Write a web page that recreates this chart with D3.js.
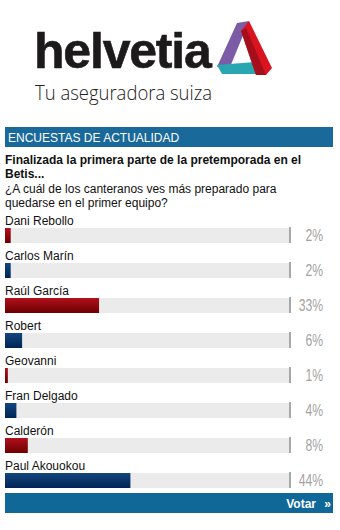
<!DOCTYPE html>
<html>
<head>
<meta charset="utf-8">
<script src="https://cdnjs.cloudflare.com/ajax/libs/d3/7.8.5/d3.min.js"></script>
<style>
	body { margin: 0; background: #fff; }
	svg { display: block; font-family: 'Liberation Sans', Arial, sans-serif; }
</style>
</head>
<body>
<div id="chart"></div>
<script>
/* global d3 */

const candidates = ['Dani Rebollo', 'Carlos Marín', 'Raúl García', 'Robert', 'Geovanni', 'Fran Delgado', 'Calderón', 'Paul Akouokou'];
const percents = [2, 2, 33, 6, 1, 4, 8, 44];
const questionLines = [
	'Finalizada la primera parte de la pretemporada en el',
	'Betis...',
	'¿A cuál de los canteranos ves más preparado para',
	'quedarse en el primer equipo?',
];

const width = 340;
const height = 530;

const svg = d3.select('#chart').append('svg')
	.attr('width', width)
	.attr('height', height);

svg.append('rect')
	.attr('width', width)
	.attr('height', height)
	.attr('fill', '#fff');

const defs = svg.append('defs');

function addGradient(id, top, bottom) {
	const g = defs.append('linearGradient')
		.attr('id', id)
		.attr('x1', 0).attr('y1', 0)
		.attr('x2', 0).attr('y2', 1);
	g.append('stop').attr('offset', '0%').attr('stop-color', top);
	g.append('stop').attr('offset', '100%').attr('stop-color', bottom);
}
addGradient('grad-red', '#b0101c', '#6e0000');
addGradient('grad-blue', '#12477f', '#002455');

// logo
const logo = svg.append('g');

logo.append('text')
	.attr('x', 34)
	.attr('y', 68)
	.attr('font-size', 50)
	.attr('font-weight', 'bold')
	.attr('letter-spacing', -1.2)
	.attr('fill', '#1c1a1a')
	.attr('stroke', '#1c1a1a')
	.attr('stroke-width', 0.6)
	.text('helvetia');

logo.append('text')
	.attr('x', 35)
	.attr('y', 100)
	.attr('font-size', 20)
	.attr('font-family', "'Open Sans', 'Liberation Sans', sans-serif")
	.attr('font-weight', 300)
	.attr('textLength', 177)
	.attr('lengthAdjust', 'spacingAndGlyphs')
	.attr('fill', '#222')
	.text('Tu aseguradora suiza');

const line = d3.line();
logo.append('path')
	.attr('d', line([[217, 67], [237, 23], [249, 21], [230, 67]]) + 'Z')
	.attr('fill', '#7c5ca6');
logo.append('path')
	.attr('d', line([[217, 65], [255, 62], [260, 74], [222, 74]]) + 'Z')
	.attr('fill', '#28a7b3');
logo.append('path')
	.attr('d', line([[241, 31], [249, 21], [272, 68], [266, 75], [256, 75]]) + 'Z')
	.attr('fill', '#d9141f');
logo.append('path')
	.attr('d', line([[241, 31], [246, 28], [266, 75], [256, 75]]) + 'Z')
	.attr('fill', '#a50f1c');

// header
svg.append('rect')
	.attr('x', 5)
	.attr('y', 127)
	.attr('width', 328)
	.attr('height', 20)
	.attr('fill', '#19699a');

svg.append('text')
	.attr('x', 8)
	.attr('y', 142)
	.attr('font-size', 12)
	.attr('fill', '#fff')
	.text('ENCUESTAS DE ACTUALIDAD');

// question
svg.append('g').selectAll('text')
	.data(questionLines)
	.enter().append('text')
	.attr('x', 5)
	.attr('y', (d, i) => [164, 178, 193, 207][i])
	.attr('font-size', 12)
	.attr('font-weight', (d, i) => i < 2 ? 'bold' : 'normal')
	.attr('fill', '#111')
	.text(d => d);

// bars
const x = d3.scaleLinear()
	.domain([0, 100])
	.range([5, 290]);

const y = d3.scaleBand()
	.domain(candidates)
	.range([208, 488]);

const rows = svg.append('g').selectAll('.row')
	.data(candidates)
	.enter().append('g')
	.attr('class', 'row')
	.attr('transform', d => `translate(0,${y(d)})`);

rows.append('text')
	.attr('x', 5)
	.attr('y', 17)
	.attr('font-size', 12)
	.attr('fill', '#111')
	.text(d => d);

rows.append('rect')
	.attr('x', x(0))
	.attr('y', 20)
	.attr('width', x(100) - x(0))
	.attr('height', 15)
	.attr('fill', '#ebebeb');

rows.append('rect')
	.attr('x', x(0))
	.attr('y', 20)
	.attr('width', (d, i) => x(percents[i]) - x(0))
	.attr('height', 15)
	.attr('fill', (d, i) => i % 2 === 0 ? 'url(#grad-red)' : 'url(#grad-blue)');

rows.append('rect')
	.attr('x', 289)
	.attr('y', 19)
	.attr('width', 2)
	.attr('height', 16)
	.attr('fill', '#a8a8a8');

rows.append('text')
	.attr('transform', 'translate(323,33) scale(0.76,1)')
	.attr('text-anchor', 'end')
	.attr('font-size', 16)
	.attr('fill', '#a3a3a3')
	.text((d, i) => `${percents[i]}%`);

// vote button
svg.append('rect')
	.attr('x', 5)
	.attr('y', 493)
	.attr('width', 328)
	.attr('height', 20)
	.attr('fill', '#0f6898');

svg.append('text')
	.attr('x', 316)
	.attr('y', 508)
	.attr('text-anchor', 'end')
	.attr('font-size', 12)
	.attr('font-weight', 'bold')
	.attr('fill', '#fff')
	.text('Votar');

svg.append('text')
	.attr('x', 331)
	.attr('y', 508)
	.attr('text-anchor', 'end')
	.attr('font-size', 12)
	.attr('font-weight', 'bold')
	.attr('fill', '#fff')
	.text('»');
</script>
</body>
</html>
